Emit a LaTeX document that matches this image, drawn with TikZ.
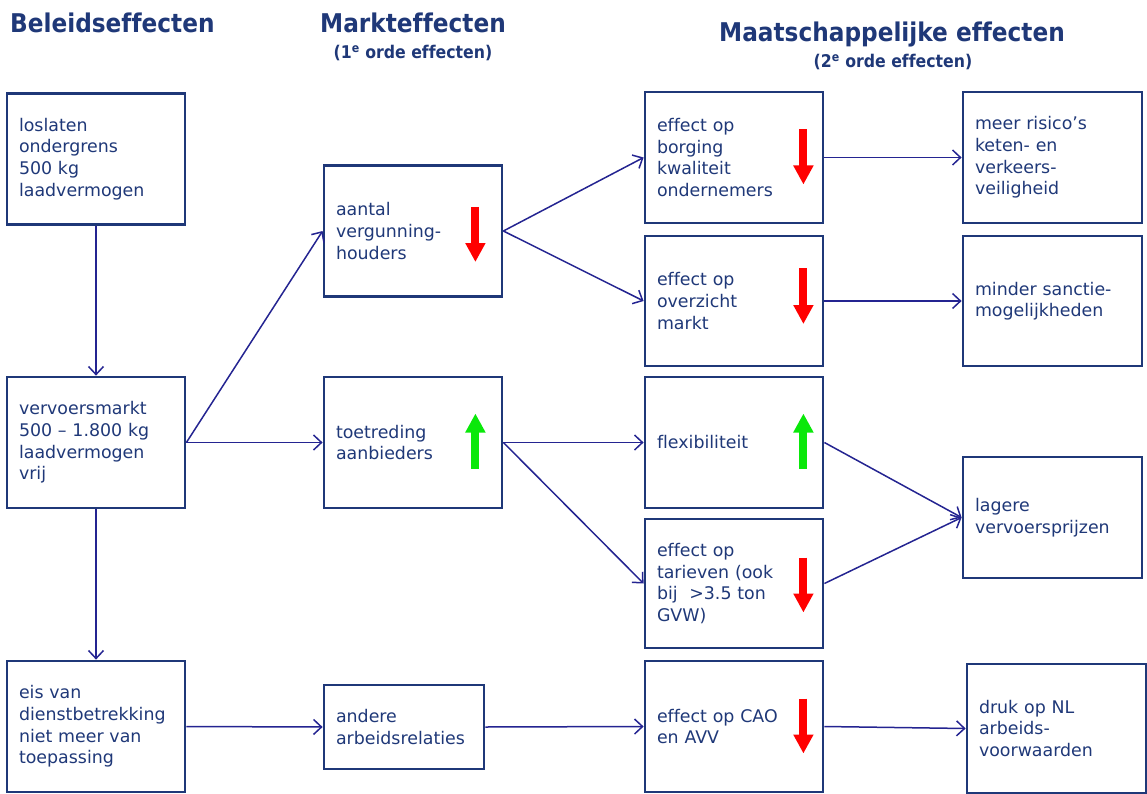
\documentclass[tikz,border=0pt]{standalone}
\usepackage{fontspec}
\setmainfont[Ligatures=NoCommon]{DejaVu Sans}
\newfontfamily\headfont[FakeStretch=0.9,Ligatures=NoCommon]{DejaVu Sans}
\usetikzlibrary{arrows.meta,calc}
\definecolor{navytext}{RGB}{31,56,120}
\definecolor{navyline}{RGB}{36,36,145}
\definecolor{downred}{RGB}{255,0,0}
\definecolor{upgreen}{RGB}{10,232,10}

\begin{document}
\begin{tikzpicture}[x=1pt,y=-1pt]
\tikzset{effbox/.style={shape=rectangle, draw=navytext, line width=2.8pt, text=navytext, align=left, inner xsep=12pt, inner ysep=0pt, minimum height=131pt, text width=154pt, font=\fontsize{17.4}{21.6}\selectfont}}
\tikzset{effedge/.style={-{Straight Barb[length=8pt,width=15pt]}, draw=navyline, line width=1.5pt}}
\tikzset{decline/.style={-{Triangle[length=19pt,width=19pt]}, draw=downred, line width=8pt}}
\tikzset{rise/.style={-{Triangle[length=19pt,width=19pt]}, draw=upgreen, line width=8pt}}
\tikzset{headtext/.style={text=navytext, inner sep=0pt, anchor=base, font=\headfont\bfseries\fontsize{25.8}{30}\selectfont}}
\tikzset{subtext/.style={text=navytext, inner sep=0pt, anchor=base, font=\headfont\bfseries\fontsize{17.5}{20}\selectfont}}
\useasboundingbox (0,0) rectangle (1147,794);
% column headings
\node (hbeleid) [headtext, anchor=base west] at (10,33) {Beleidseffecten};
\node (hmarkt) [headtext] at (413,33) {Markteffecten};
\node (hmarktsub) [subtext] at (413,59) {(1\textsuperscript{e} orde effecten)};
\node (hmaatsch) [headtext] at (892,42) {Maatschappelijke effecten};
\node (hmaatschsub) [subtext] at (893,68) {(2\textsuperscript{e} orde effecten)};
% beleidseffecten
\node (loslaten) [effbox] at (96,159) {loslaten\\ondergrens\\500 kg\\laadvermogen};
\node (vervoer) [effbox] at (96,442.5) {vervoersmarkt\\500 -- 1.800 kg\\laadvermogen\\vrij};
\node (dienst) [effbox] at (96,726.5) {eis van\\dienstbetrekking\\niet meer van\\toepassing};
% markteffecten
\node (vergunning) [effbox] at (413,231) {aantal\\vergunning-\\houders};
\node (toetreding) [effbox] at (413,442.5) {toetreding\\aanbieders};
\node (arbeid) [effbox, minimum height=84pt, text width=136pt] at (404,727) {andere\\arbeidsrelaties};
% maatschappelijke effecten
\node (borging) [effbox] at (734,157.5) {effect op\\borging\\kwaliteit\\ondernemers};
\node (overzicht) [effbox, minimum height=130pt] at (734,301) {effect op\\overzicht\\markt};
\node (flex) [effbox] at (734,442.5) {flexibiliteit};
\node (tarief) [effbox, minimum height=129pt] at (734,583.5) {effect op\\tarieven (ook\\bij~ >3.5 ton\\GVW)};
\node (cao) [effbox] at (734,726.5) {effect op CAO\\en AVV};
\node (risico) [effbox, text width=155pt] at (1052.5,157.5) {meer risico's\\keten- en\\verkeers-\\veiligheid};
\node (sanctie) [effbox, text width=155pt, minimum height=130pt] at (1052.5,301) {minder sanctie-\\mogelijkheden};
\node (prijs) [effbox, text width=155pt, minimum height=121pt] at (1052.5,517.5) {lagere\\vervoersprijzen};
\node (druk) [effbox, text width=155pt, minimum height=129pt] at (1056.5,728.5) {druk op NL\\arbeids-\\voorwaarden};
% up and down signs
\draw[decline] ($(vergunning.east)+(-28,-24)$) -- ++(0,55);
\draw[rise] ($(toetreding.east)+(-28,26)$) -- ++(0,-55);
\draw[decline] ($(borging.east)+(-21,-28)$) -- ++(0,55);
\draw[decline] ($(overzicht.east)+(-21,-33)$) -- ++(0,56);
\draw[rise] ($(flex.east)+(-21,26)$) -- ++(0,-55);
\draw[decline] ($(tarief.east)+(-21,-26)$) -- ++(0,55);
\draw[decline] ($(cao.east)+(-21,-28)$) -- ++(0,55);
% connections
\draw[effedge] (loslaten) -- (vervoer);
\draw[effedge] (vervoer) -- (dienst);
\draw[effedge] (vervoer.east) -- (vergunning.west);
\draw[effedge] (vervoer.east) -- (toetreding.west);
\draw[effedge] (dienst.east) -- (arbeid.west);
\draw[effedge] (vergunning.east) -- (borging.west);
\draw[effedge] (vergunning.east) -- (overzicht.west);
\draw[effedge] (toetreding.east) -- (flex.west);
\draw[effedge] (toetreding.east) -- (tarief.west);
\draw[effedge] (arbeid.east) -- (cao.west);
\draw[effedge] (borging.east) -- (risico.west);
\draw[effedge] (overzicht.east) -- (sanctie.west);
\draw[effedge] (flex.east) -- (prijs.west);
\draw[effedge] (tarief.east) -- (prijs.west);
\draw[effedge] (cao.east) -- (druk.west);
\end{tikzpicture}
\end{document}
